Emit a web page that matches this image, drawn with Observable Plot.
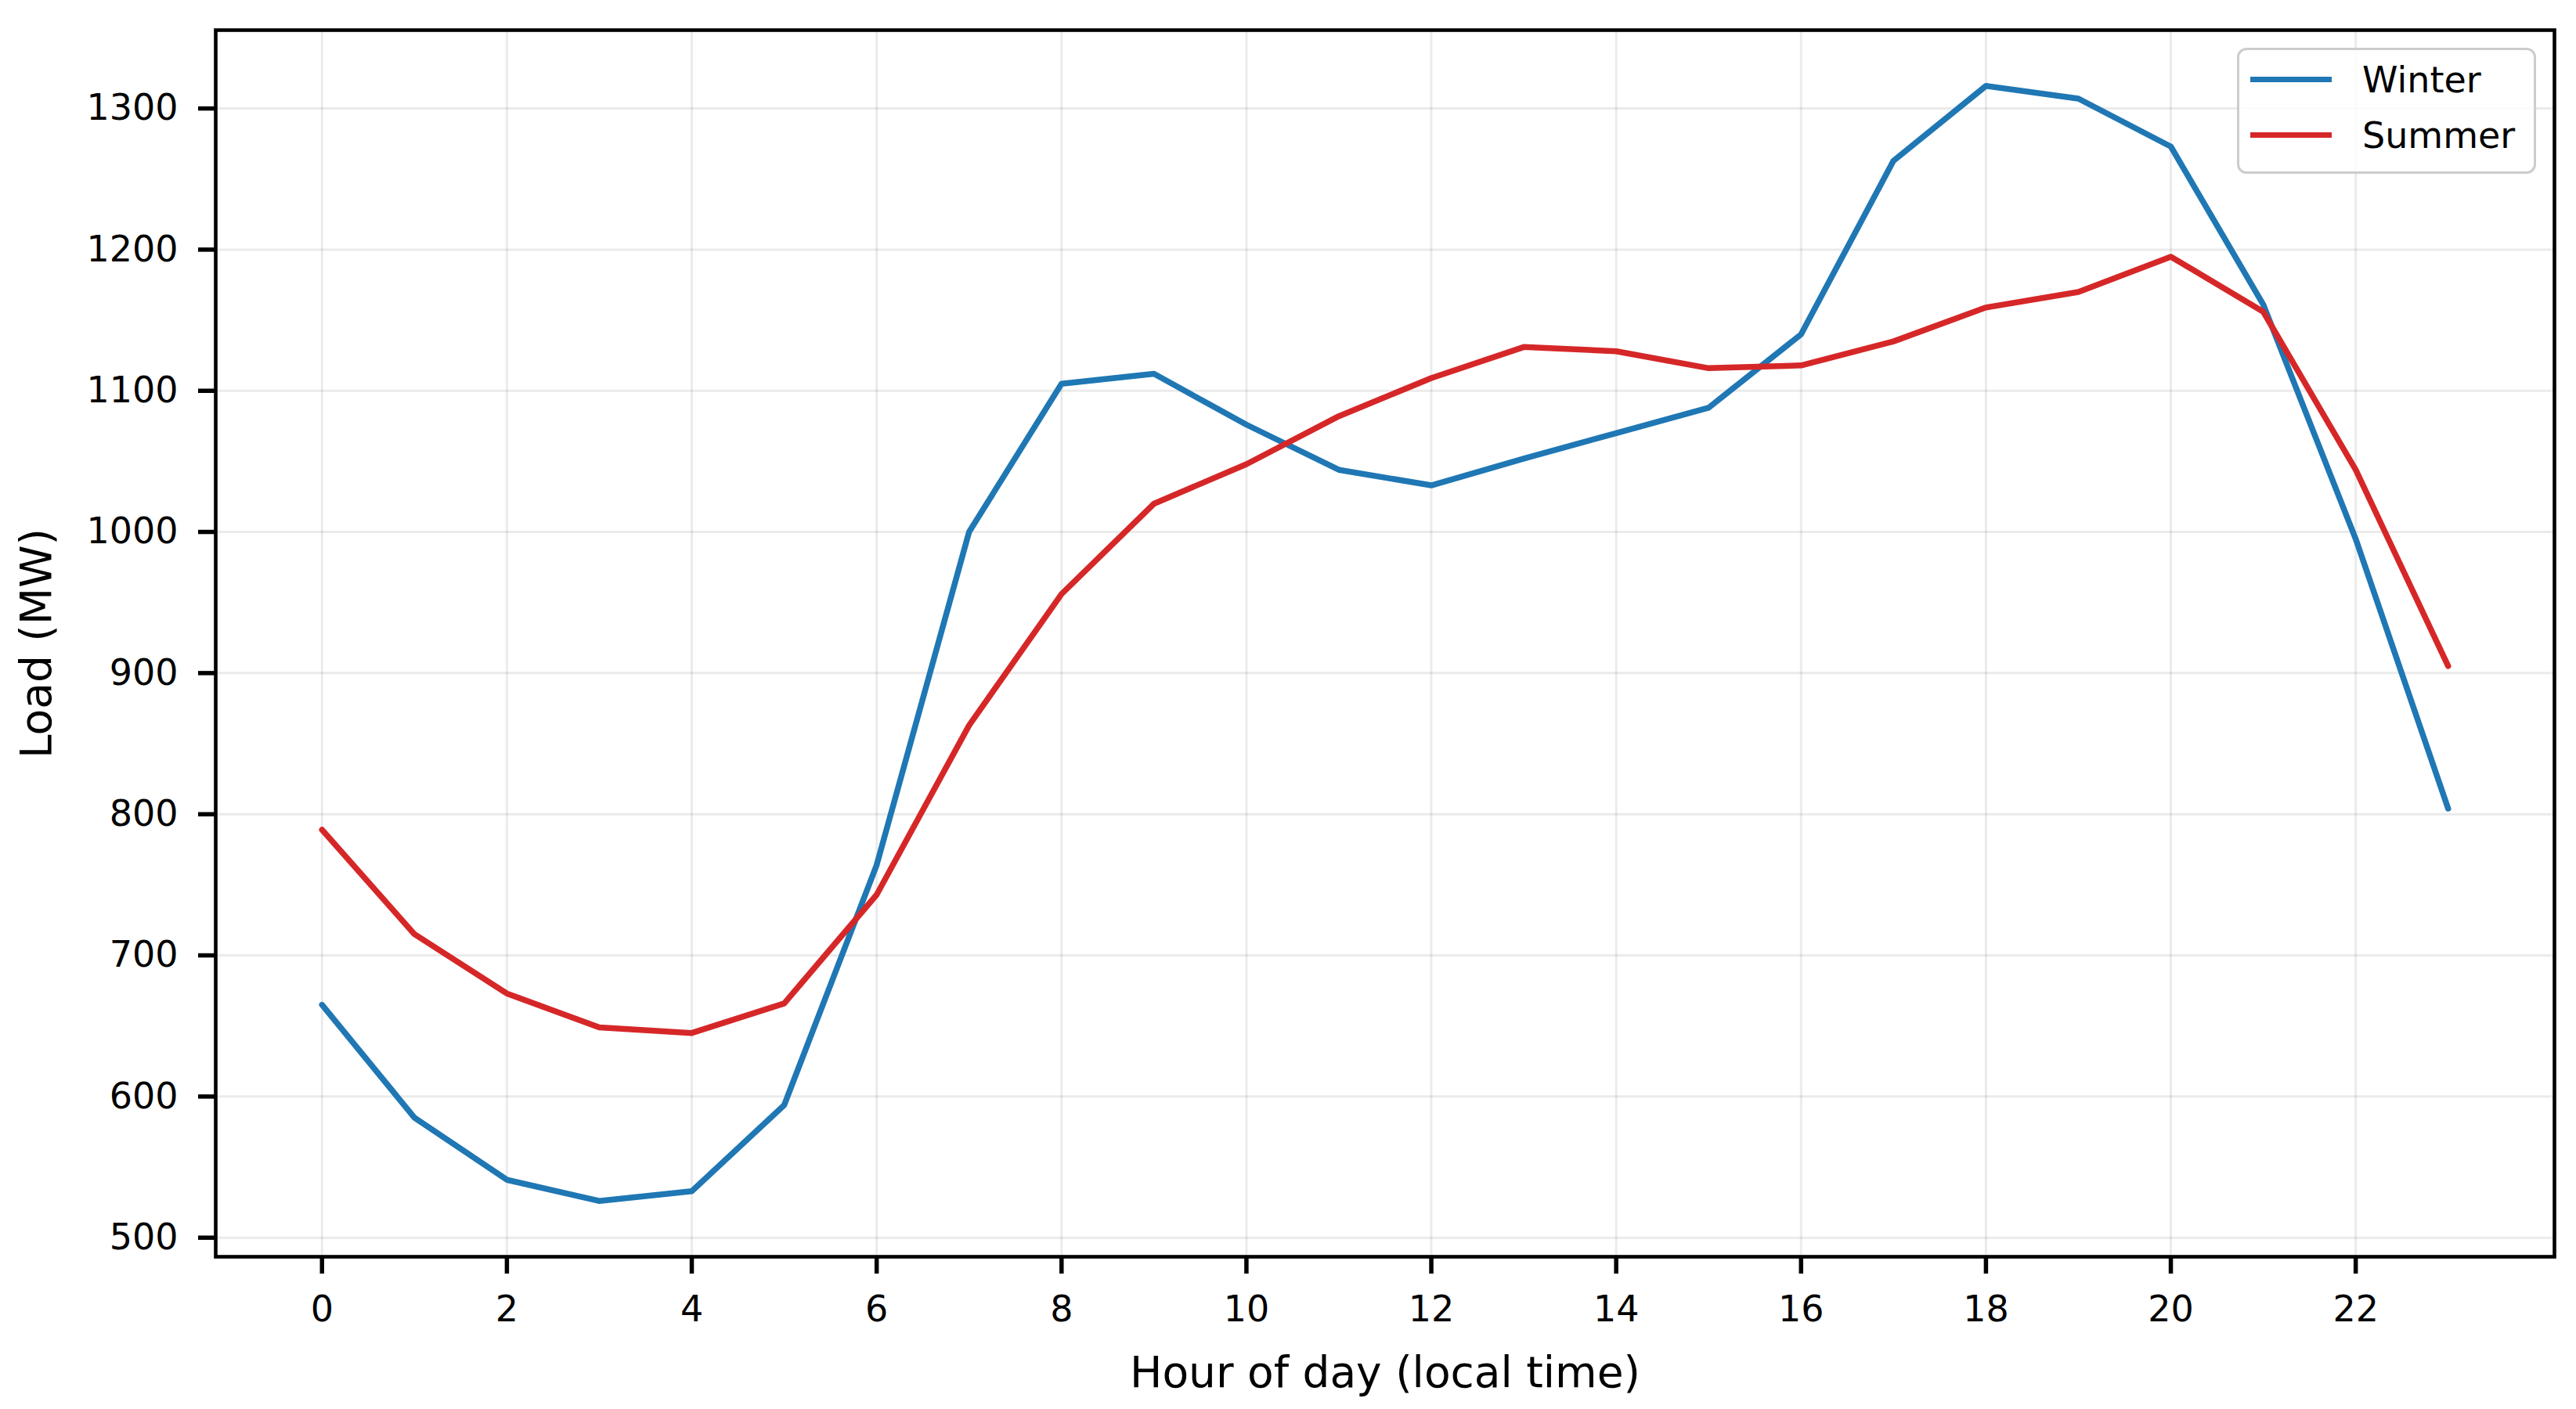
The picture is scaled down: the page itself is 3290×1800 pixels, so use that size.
<!DOCTYPE html>
<html>
<head>
<meta charset="utf-8">
<script src="https://cdn.jsdelivr.net/npm/d3@7"></script>
<script src="https://cdn.jsdelivr.net/npm/@observablehq/plot@0.6"></script>
<style>
  html, body { margin: 0; padding: 0; background: #fff; }
  #fig { position: relative; width: 3290px; height: 1800px; font-family: "DejaVu Sans", sans-serif; }
  #legend {
    position: absolute; left: 2857px; top: 61px; width: 382px; height: 161px;
    box-sizing: border-box; border: 3px solid #cccccc; border-radius: 12px;
    background: rgba(255,255,255,0.8); padding: 2px 0 0 14px;
  }
  .row { display: flex; align-items: center; height: 71px; }
  .sw { width: 104px; height: 7.5px; margin-right: 39px; }
  .lab { font-size: 46px; line-height: 1; color: #000; font-family: "DejaVu Sans", sans-serif; }
</style>
</head>
<body>
<div id="fig"></div>
<script>
const hours = [0, 1, 2, 3, 4, 5, 6, 7, 8, 9, 10, 11, 12, 13, 14, 15, 16, 17, 18, 19, 20, 21, 22, 23];
const winterLoad = [665, 585, 541, 526, 533, 594, 764, 1000, 1105, 1112, 1076, 1044, 1033, 1052, 1070, 1088, 1140, 1263, 1316, 1307, 1273, 1161, 995, 804];
const summerLoad = [789, 715, 673, 649, 645, 666, 743, 863, 956, 1020, 1048, 1082, 1109, 1131, 1128, 1116, 1118, 1135, 1159, 1170, 1195, 1156, 1044, 905];
const seriesNames = ["Winter", "Summer"];
const seriesColors = ["#1f77b4", "#d62728"];
const xTicks = [0, 2, 4, 6, 8, 10, 12, 14, 16, 18, 20, 22];
const yTicks = [500, 600, 700, 800, 900, 1000, 1100, 1200, 1300];
const xLabel = "Hour of day (local time)";
const yLabel = "Load (MW)";

const seriesValues = [winterLoad, summerLoad];
const rows = [];
seriesNames.forEach((name, s) => {
  hours.forEach((h, i) => rows.push({ hour: h, load: seriesValues[s][i], season: name }));
});

const chart = Plot.plot({
  width: 3290,
  height: 1800,
  marginLeft: 275,
  marginRight: 28,
  marginTop: 38,
  marginBottom: 195,
  style: { fontFamily: "DejaVu Sans, sans-serif", background: "white", color: "black" },
  x: { domain: [-1.15, 24.15] },
  y: { domain: [486.5, 1355.5] },
  color: { domain: seriesNames, range: seriesColors },
  marks: [
    Plot.gridX(xTicks, { stroke: "#000", strokeOpacity: 0.08, strokeWidth: 3 }),
    Plot.gridY(yTicks, { stroke: "#000", strokeOpacity: 0.08, strokeWidth: 3 }),
    Plot.line(rows, { x: "hour", y: "load", z: "season", stroke: "season", strokeWidth: 7.5 }),
    Plot.frame({ stroke: "#000", strokeWidth: 4.6 }),
    Plot.axisX(xTicks, { tickSize: 22, tickPadding: 28, fontSize: 46, strokeWidth: 5.5, label: null, tickFormat: d => String(d) }),
    Plot.axisY(yTicks, { tickSize: 22, tickPadding: 26, fontSize: 46, strokeWidth: 5.5, label: null, tickFormat: d => String(d) }),
    Plot.text([xLabel], { text: d => d, frameAnchor: "bottom", dy: 149, fontSize: 55, textAnchor: "middle", lineAnchor: "middle" }),
    Plot.text([yLabel], { text: d => d, frameAnchor: "left", dx: -228, rotate: -90, fontSize: 55, textAnchor: "middle", lineAnchor: "middle" })
  ]
});

const fig = document.getElementById("fig");
fig.appendChild(chart);

const legend = document.createElement("div");
legend.id = "legend";
seriesNames.forEach((name, i) => {
  const row = document.createElement("div");
  row.className = "row";
  const sw = document.createElement("span");
  sw.className = "sw";
  sw.style.background = seriesColors[i];
  const lab = document.createElement("span");
  lab.className = "lab";
  lab.textContent = name;
  row.appendChild(sw);
  row.appendChild(lab);
  legend.appendChild(row);
});
fig.appendChild(legend);
</script>
</body>
</html>
